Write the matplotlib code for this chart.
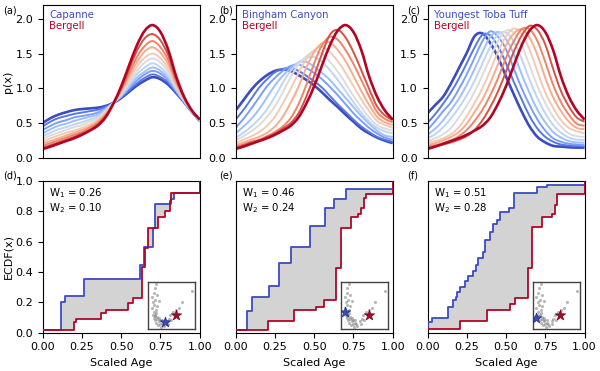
import numpy as np
import matplotlib
matplotlib.use('Agg')
import matplotlib.pyplot as plt
from matplotlib.path import Path
from matplotlib.patches import PathPatch

# scaled-age grid the densities were read at
age_grid = [0.0, 0.05, 0.10, 0.15, 0.20, 0.25, 0.30, 0.35, 0.40, 0.45, 0.50,
            0.55, 0.60, 0.65, 0.70, 0.75, 0.80, 0.85, 0.90, 0.95, 1.0]

bergell_pdf = [.125, .16, .20, .24, .28, .33, .39, .46, .58, .78, 1.03,
               1.33, 1.62, 1.83, 1.91, 1.81, 1.55, 1.17, .88, .68, .55]

capanne_pdf = [.50, .57, .62, .655, .685, .70, .71, .72, .745, .79, .86,
               .95, 1.04, 1.11, 1.16, 1.13, 1.05, .93, .80, .66, .53]
capanne_mix = [
    [.45, .52, .57, .60, .63, .65, .67, .69, .73, .79, .87, .97, 1.07, 1.15, 1.20, 1.16, 1.08, .94, .80, .66, .53],
    [.40, .46, .51, .54, .58, .60, .62, .65, .71, .79, .88, 1.00, 1.11, 1.20, 1.25, 1.21, 1.11, .96, .81, .66, .53],
    [.35, .41, .46, .49, .53, .56, .59, .62, .70, .79, .89, 1.02, 1.15, 1.24, 1.30, 1.25, 1.14, .97, .81, .66, .53],
    [.31, .36, .41, .44, .48, .51, .55, .59, .68, .79, .90, 1.05, 1.20, 1.30, 1.36, 1.30, 1.18, .99, .82, .67, .54],
    [.27, .32, .36, .40, .44, .47, .52, .57, .67, .79, .92, 1.09, 1.25, 1.37, 1.43, 1.37, 1.23, 1.02, .83, .67, .54],
    [.23, .28, .32, .36, .39, .43, .48, .54, .65, .78, .94, 1.12, 1.31, 1.44, 1.50, 1.43, 1.28, 1.04, .84, .67, .54],
    [.20, .24, .28, .32, .36, .40, .45, .52, .63, .78, .96, 1.17, 1.38, 1.53, 1.59, 1.51, 1.34, 1.07, .85, .67, .54],
    [.17, .21, .25, .29, .33, .37, .43, .50, .61, .78, .98, 1.21, 1.45, 1.61, 1.68, 1.59, 1.40, 1.10, .86, .68, .55],
    [.14, .18, .22, .26, .30, .35, .40, .48, .60, .78, 1.00, 1.27, 1.54, 1.72, 1.78, 1.69, 1.47, 1.13, .87, .68, .55],
]

bingham_pdf = [.68, .83, .98, 1.10, 1.19, 1.25, 1.27, 1.25, 1.19, 1.12, 1.04,
               .94, .83, .73, .62, .52, .42, .35, .29, .245, .21]
bingham_mix = [
    [.55, .69, .85, 1.01, 1.13, 1.23, 1.28, 1.29, 1.25, 1.18, 1.10, 1.01, .89, .77, .66, .55, .45, .37, .30, .26, .23],
    [.43, .56, .71, .87, 1.03, 1.15, 1.25, 1.32, 1.34, 1.29, 1.22, 1.13, 1.02, .90, .77, .64, .53, .43, .35, .29, .26],
    [.35, .45, .56, .70, .87, 1.04, 1.18, 1.29, 1.37, 1.38, 1.31, 1.22, 1.12, .99, .86, .73, .60, .49, .39, .32, .30],
    [.29, .36, .45, .56, .70, .88, 1.08, 1.25, 1.37, 1.44, 1.45, 1.38, 1.26, 1.12, .96, .80, .65, .52, .43, .38, .35],
    [.25, .31, .38, .47, .59, .74, .94, 1.16, 1.34, 1.46, 1.53, 1.49, 1.38, 1.24, 1.07, .89, .73, .58, .47, .42, .39],
    [.21, .26, .31, .37, .46, .59, .78, .99, 1.22, 1.42, 1.55, 1.60, 1.52, 1.39, 1.22, 1.03, .84, .67, .53, .47, .43],
    [.18, .22, .26, .30, .36, .45, .59, .79, 1.02, 1.30, 1.52, 1.65, 1.66, 1.55, 1.39, 1.18, .96, .76, .59, .51, .47],
    [.16, .19, .23, .26, .31, .37, .45, .57, .77, 1.05, 1.36, 1.62, 1.74, 1.70, 1.55, 1.35, 1.12, .88, .66, .56, .51],
    [.14, .18, .22, .25, .30, .35, .42, .50, .64, .88, 1.18, 1.50, 1.77, 1.84, 1.73, 1.52, 1.26, .99, .74, .61, .54],
]

toba_pdf = [.64, .76, .88, 1.07, 1.29, 1.51, 1.75, 1.79, 1.65, 1.44, 1.17,
            .91, .665, .45, .30, .22, .17, .16, .15, .145, .145]
toba_mix = [
    [.50, .63, .78, .945, 1.14, 1.36, 1.59, 1.77, 1.76, 1.60, 1.36, 1.09, .84, .60, .42, .30, .23, .19, .175, .17, .16],
    [.40, .53, .67, .80, .99, 1.20, 1.44, 1.68, 1.82, 1.74, 1.56, 1.28, 1.00, .76, .55, .39, .28, .23, .20, .19, .18],
    [.33, .42, .54, .69, .85, 1.05, 1.28, 1.52, 1.74, 1.81, 1.71, 1.49, 1.20, .93, .69, .51, .37, .29, .24, .22, .215],
    [.28, .34, .44, .57, .72, .90, 1.11, 1.36, 1.60, 1.78, 1.80, 1.67, 1.42, 1.12, .86, .64, .47, .36, .29, .26, .255],
    [.24, .28, .34, .43, .58, .75, .95, 1.19, 1.44, 1.68, 1.83, 1.80, 1.62, 1.33, 1.03, .79, .59, .45, .35, .31, .30],
    [.21, .24, .28, .34, .44, .60, .79, 1.00, 1.26, 1.53, 1.75, 1.86, 1.78, 1.56, 1.24, .94, .72, .54, .43, .38, .35],
    [.18, .21, .25, .30, .37, .49, .66, .84, 1.08, 1.35, 1.62, 1.79, 1.85, 1.73, 1.48, 1.15, .87, .67, .52, .43, .41],
    [.16, .18, .21, .25, .31, .40, .53, .69, .90, 1.15, 1.44, 1.68, 1.85, 1.85, 1.68, 1.38, 1.05, .80, .62, .49, .46],
    [.14, .165, .19, .22, .26, .31, .40, .54, .73, .96, 1.24, 1.53, 1.76, 1.90, 1.84, 1.63, 1.28, .96, .74, .58, .52],
]

sample_names = ['Capanne', 'Bingham Canyon', 'Youngest Toba Tuff']
w1_values = ['0.26', '0.46', '0.51']
w2_values = ['0.10', '0.24', '0.28']

# ECDF step positions (x) and levels (y)
ecdf_d_blue_x = [0, .117, .143, .26, .617, .643, .702, .717, .815, .835, 1.0]
ecdf_d_blue_y = [.02, .20, .24, .352, .444, .563, .69, .848, .88, .921, 1.0]
ecdf_d_red_x = [0, .20, .213, .37, .404, .543, .572, .632, .65, .669, .735, .781, .808, .82, 1.0]
ecdf_d_red_y = [.02, .068, .088, .132, .149, .193, .231, .43, .56, .69, .76, .80, .866, .921, 1.0]

ecdf_e_blue_x = [0, .07, .103, .214, .278, .353, .476, .566, .626, .70, 1.0]
ecdf_e_blue_y = [.02, .145, .237, .31, .46, .567, .703, .82, .88, .945, 1.0]
ecdf_e_red_x = [0, .203, .374, .509, .56, .637, .669, .733, .776, .80, .818, .833, 1.0]
ecdf_e_red_y = [.02, .077, .149, .171, .215, .424, .688, .76, .78, .82, .886, .912, 1.0]

ecdf_f_blue_x = [0, .004, .03, .132, .164, .179, .19, .207, .239, .26, .292, .307, .32,
                 .352, .367, .399, .42, .441, .463, .516, .548, .697, .761, 1.0]
ecdf_f_blue_y = [.029, .073, .099, .167, .215, .237, .27, .303, .341, .376, .407, .446, .49,
                 .534, .611, .666, .716, .743, .798, .82, .919, .963, .974, 1.0]
ecdf_f_red_x = [0, .207, .377, .527, .559, .64, .665, .729, .793, .81, .825, 1.0]
ecdf_f_red_y = [.022, .079, .149, .187, .226, .429, .699, .765, .78, .842, .912, 1.0]

# MDS coordinates for the inset maps
mds_x = [.18, .14, .12, .19, .08, .15, .11, .23, .13, .19, .08, .12, .18, .20, .12, .15, .23,
         .26, .33, .40, .44, .47, .54, .67, .72, .93, .15, .20, .10, .25, .30, .18, .22, .35,
         .28, .42, .50, .60, .17, .14, .24, .30]
mds_y = [.96, .86, .76, .73, .67, .62, .57, .59, .51, .48, .44, .37, .34, .26, .23, .19, .16,
         .10, .10, .16, .21, .30, .37, .44, .57, .80, .30, .22, .30, .20, .13, .13, .08, .07,
         .05, .10, .20, .40, .40, .28, .24, .18]
bergell_mds = (.59, .30)
sample_mds = [(.37, .14), (.08, .37), (.07, .23)]


def smooth_line(ax, xs, ys, **kw):
    # Catmull-Rom through the read points, drawn as a bezier path
    pts = np.column_stack([xs, ys]).astype(float)
    ext = np.vstack([pts[0], pts, pts[-1]])
    verts = [pts[0]]
    codes = [Path.MOVETO]
    for i in range(len(pts) - 1):
        p0, p1, p2, p3 = ext[i], ext[i + 1], ext[i + 2], ext[i + 3]
        verts += [p1 + (p2 - p0) / 6, p2 - (p3 - p1) / 6, p2]
        codes += [Path.CURVE4] * 3
    ax.add_patch(PathPatch(Path(verts, codes), fill=False, **kw))


def step_at(xs, ys, where):
    idx = np.searchsorted(xs, where, side='right') - 1
    return np.asarray(ys)[idx]


cmap = plt.cm.coolwarm
blue_c = cmap(0.0)
red_c = cmap(1.0)

fig = plt.figure(figsize=(6, 3.71), dpi=100)
lefts = [0.0712, 0.3928, 0.7125]
width = 0.2617
labels_top = ['(a)', '(b)', '(c)']
labels_bot = ['(d)', '(e)', '(f)']
label_x = [0.006, 0.366, 0.679]

blues = [capanne_pdf, bingham_pdf, toba_pdf]
mixes = [capanne_mix, bingham_mix, toba_mix]
ecdfs = [
    (ecdf_d_blue_x, ecdf_d_blue_y, ecdf_d_red_x, ecdf_d_red_y),
    (ecdf_e_blue_x, ecdf_e_blue_y, ecdf_e_red_x, ecdf_e_red_y),
    (ecdf_f_blue_x, ecdf_f_blue_y, ecdf_f_red_x, ecdf_f_red_y),
]

for i in range(3):
    # top row: interpolated densities
    ax = fig.add_axes([lefts[i], 0.575, width, 0.4116])
    curves = [blues[i]] + mixes[i] + [bergell_pdf]
    for k, ys in enumerate(curves):
        lw = 1.9 if k in (0, len(curves) - 1) else 1.4
        smooth_line(ax, age_grid, ys, edgecolor=cmap(k / (len(curves) - 1)), lw=lw)
    ax.set_xlim(0, 1)
    ax.set_ylim(0, 2.2)
    ax.set_xticks([])
    ax.set_yticks([0, 0.5, 1.0, 1.5, 2.0])
    ax.tick_params(labelsize=8)
    if i == 0:
        ax.set_ylabel('p(x)', fontsize=8)
        ax.yaxis.set_label_coords(-0.19, 0.5)
    ax.text(0.04, 0.965, sample_names[i], color=blue_c, fontsize=7.3,
            transform=ax.transAxes, va='top')
    ax.text(0.04, 0.895, 'Bergell', color=red_c, fontsize=7.3,
            transform=ax.transAxes, va='top')
    fig.text(label_x[i], 0.973, labels_top[i], fontsize=7, va='center')

    # bottom row: ECDFs
    bx, by, rx, ry = ecdfs[i]
    ax2 = fig.add_axes([lefts[i], 0.1032, width, 0.4089])
    xs = np.unique(np.concatenate([bx, rx]))
    ax2.fill_between(xs, step_at(bx, by, xs), step_at(rx, ry, xs), step='post',
                     color='#d3d3d3', lw=0, zorder=1)
    ax2.step(bx, by, where='post', color=blue_c, lw=1.3, zorder=3)
    ax2.step(rx, ry, where='post', color=red_c, lw=1.3, zorder=3)
    ax2.set_xlim(0, 1)
    ax2.set_ylim(0, 1)
    ax2.set_xticks([0, 0.25, 0.5, 0.75, 1.0])
    ax2.set_xticklabels(['0.00', '0.25', '0.50', '0.75', '1.00'])
    ax2.tick_params(labelsize=8)
    ax2.set_xlabel('Scaled Age', fontsize=8)
    if i == 0:
        ax2.set_yticks([0, 0.2, 0.4, 0.6, 0.8, 1.0])
        ax2.set_ylabel('ECDF(x)', fontsize=8)
        ax2.yaxis.set_label_coords(-0.19, 0.5)
    else:
        ax2.set_yticks([])
    ax2.text(0.04, 0.965, 'W$_1$ = ' + w1_values[i] + '\nW$_2$ = ' + w2_values[i],
             fontsize=7.3, transform=ax2.transAxes, va='top', linespacing=1.1)
    fig.text(label_x[i], 0.526, labels_bot[i], fontsize=7, va='center')

    # inset MDS map
    ins = ax2.inset_axes([0.67, 0.025, 0.30, 0.31])
    ins.scatter(mds_x, mds_y, s=5, color='#888888', alpha=0.6, lw=0)
    ins.scatter([sample_mds[i][0]], [sample_mds[i][1]], marker='*', s=60,
                color=blue_c, edgecolor='#1f2a80', lw=0.5, zorder=3)
    ins.scatter([bergell_mds[0]], [bergell_mds[1]], marker='*', s=60,
                color=red_c, edgecolor='#6a0016', lw=0.5, zorder=3)
    ins.set_xlim(0, 1)
    ins.set_ylim(0, 1)
    ins.set_xticks([])
    ins.set_yticks([])
    for sp in ins.spines.values():
        sp.set_color('#444444')
        sp.set_linewidth(1.0)

fig.savefig('out.png', dpi=100)
